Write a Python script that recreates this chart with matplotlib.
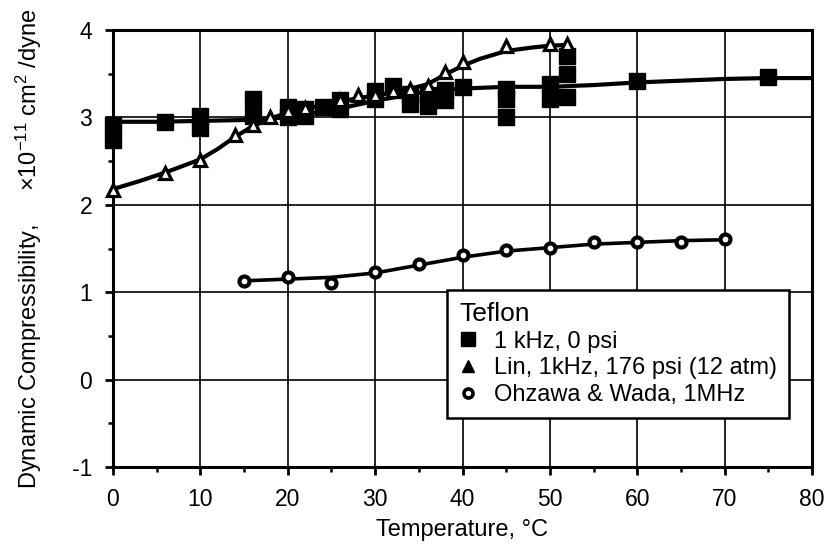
import matplotlib
matplotlib.use("Agg")
import matplotlib.pyplot as plt
from matplotlib.lines import Line2D
from matplotlib.ticker import MultipleLocator

plt.rcParams['font.family'] = ['Liberation Sans', 'DejaVu Sans']
plt.rcParams['mathtext.fontset'] = 'custom'
plt.rcParams['mathtext.rm'] = 'Liberation Sans'
plt.rcParams['mathtext.it'] = 'Liberation Sans:italic'
plt.rcParams['axes.unicode_minus'] = False

# Teflon, 1 kHz, 0 psi (filled squares)
sq_T = [0, 0, 6, 10, 10, 16, 16, 20, 20, 22, 22, 24, 26, 26, 30, 30, 32,
        34, 34, 36, 36, 38, 38, 40, 45, 45, 45, 50, 50, 52, 52, 52, 60, 75]
sq_K = [2.91, 2.74, 2.95, 3.02, 2.88, 3.21, 3.02, 3.12, 3.00, 3.10, 3.02,
        3.12, 3.20, 3.10, 3.30, 3.21, 3.36, 3.27, 3.15, 3.26, 3.13, 3.31,
        3.20, 3.35, 3.32, 3.21, 3.00, 3.38, 3.21, 3.70, 3.50, 3.23, 3.42, 3.46]
sq_fit_T = [0, 5, 10, 15, 20, 25, 30, 35, 40, 45, 50, 55, 60, 65, 70, 75, 80]
sq_fit_K = [2.95, 2.95, 2.96, 2.97, 3.00, 3.08, 3.19, 3.28, 3.33, 3.35, 3.35,
            3.37, 3.40, 3.42, 3.44, 3.45, 3.45]

# Lin, 1 kHz, 176 psi (open triangles)
tri_T = [0, 6, 10, 14, 16, 18, 20, 22, 26, 28, 30, 32, 34, 36, 38, 40, 45, 50, 52]
tri_K = [2.17, 2.36, 2.51, 2.80, 2.91, 3.01, 3.07, 3.11, 3.20, 3.26, 3.26,
         3.30, 3.33, 3.36, 3.52, 3.63, 3.82, 3.84, 3.84]
tri_fit_T = [0, 3, 6, 10, 12, 14, 16, 18, 20, 22, 25, 28, 30, 33, 36, 38, 40,
             42, 45, 48, 50, 52]
tri_fit_K = [2.18, 2.27, 2.37, 2.52, 2.64, 2.78, 2.90, 2.99, 3.05, 3.10, 3.16,
             3.22, 3.25, 3.30, 3.38, 3.49, 3.59, 3.67, 3.76, 3.80, 3.82, 3.83]

# Ohzawa & Wada, 1 MHz (open circles)
cir_T = [15, 20, 25, 30, 35, 40, 45, 50, 55, 60, 65, 70]
cir_K = [1.13, 1.17, 1.10, 1.23, 1.32, 1.42, 1.48, 1.51, 1.57, 1.57, 1.57, 1.61]
cir_fit_T = [15, 20, 25, 30, 35, 40, 45, 50, 55, 60, 65, 70]
cir_fit_K = [1.13, 1.15, 1.17, 1.22, 1.31, 1.40, 1.47, 1.51, 1.55, 1.57, 1.59, 1.60]

legend_title = "Teflon"
legend_labels = ["1 kHz, 0 psi", "Lin, 1kHz, 176 psi (12 atm)", "Ohzawa & Wada, 1MHz"]

fig = plt.figure(figsize=(8.32, 5.5), dpi=100)
ax = fig.add_axes([113 / 832, 1 - 467 / 550, 699 / 832, 437 / 550])

ax.set_xlim(0, 80)
ax.set_ylim(-1, 4)
ax.xaxis.set_major_locator(MultipleLocator(10))
ax.xaxis.set_minor_locator(MultipleLocator(5))
ax.yaxis.set_major_locator(MultipleLocator(1))
ax.yaxis.set_minor_locator(MultipleLocator(0.5))
ax.grid(True, which='major', color='black', linewidth=1.2)
ax.set_axisbelow(True)
for s in ax.spines.values():
    s.set_linewidth(2.2)
ax.tick_params(which='major', direction='out', length=6, width=2.0,
               labelsize=16.5, pad=9)
ax.tick_params(which='minor', direction='out', length=3.5, width=1.8)

# fitted curves
ax.plot(sq_fit_T, sq_fit_K, color='black', lw=3.0, zorder=3)
ax.plot(tri_fit_T, tri_fit_K, color='black', lw=3.0, zorder=3)
ax.plot(cir_fit_T, cir_fit_K, color='black', lw=2.6, zorder=3)

# measured points
ax.plot(sq_T, sq_K, ls='none', marker='s', ms=12, color='black',
        zorder=4, clip_on=False)
ax.plot(tri_T, tri_K, ls='none', marker='^', ms=9, mfc='white', mec='black',
        mew=2.3, zorder=5, clip_on=False)
ax.plot(cir_T, cir_K, ls='none', marker='o', ms=7.2, mfc='white', mec='black',
        mew=3.0, zorder=5, clip_on=False)

ax.set_xlabel("Temperature, °C", fontsize=17, labelpad=6)
ax.set_ylabel(r"Dynamic Compressibility,     $\times$10$^{-11}$ cm$^{2}$ /dyne",
              fontsize=17, labelpad=20)

handles = [
    Line2D([], [], ls='none', marker='s', ms=9.5, color='black'),
    Line2D([], [], ls='none', marker='^', ms=8.5, color='black'),
    Line2D([], [], ls='none', marker='o', ms=6.5, mfc='white', mec='black', mew=2.6),
]
leg = ax.legend(handles, legend_labels, title=legend_title, loc='upper left',
                bbox_to_anchor=(0.478, 0.405), borderaxespad=0, fontsize=17,
                title_fontsize=19, frameon=True, fancybox=False,
                edgecolor='black', framealpha=1, handlelength=0.8,
                handletextpad=0.7, labelspacing=0.2, borderpad=0.5,
                alignment='left')
leg.get_frame().set_linewidth(1.8)
leg.set_zorder(6)

fig.savefig("out.png", dpi=100, facecolor='white')
